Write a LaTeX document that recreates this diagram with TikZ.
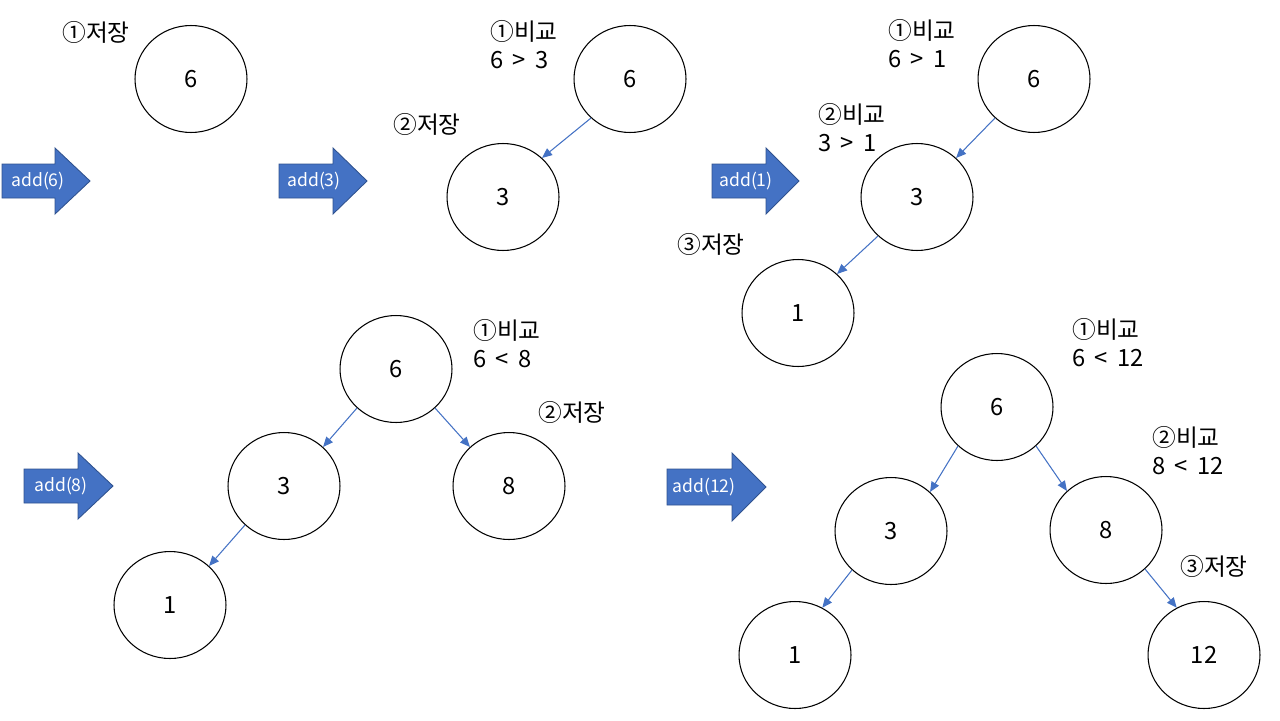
\documentclass[tikz,border=0pt]{standalone}
\usepackage{fontspec}
\setmainfont{Noto Sans CJK KR}
\usetikzlibrary{arrows.meta,shapes.geometric}
\definecolor{officeblue}{RGB}{68,114,196}
\definecolor{officeblueline}{RGB}{47,82,143}
\tikzset{
  num/.style={
    ellipse,
    draw=black,
    line width=0.6pt,
    minimum width=2.24cm,
    minimum height=2.14cm,
    inner sep=0pt,
    font=\fontsize{13.5}{15}\selectfont
  },
  memo/.style={
    anchor=base west,
    align=left,
    inner sep=0pt,
    font=\fontsize{13.5}{15.4}\selectfont
  },
  link/.style={
    -{Triangle[length=2mm,width=1.7mm]},
    officeblue,
    line width=0.6pt
  },
  addarrow/.style={
    fill=officeblue,
    draw=officeblueline,
    line width=0.5pt
  },
  addtext/.style={
    text=white,
    inner sep=0pt,
    font=\fontsize{10}{12}\selectfont
  }
}

\begin{document}
\begin{tikzpicture}[x=0.02cm,y=-0.02cm]
\useasboundingbox (0,0) rectangle (1280,720);

% add(6)
\fill[addarrow] (2,164) -- ++(53,0) -- ++(0,-16) -- ++(35,33) -- ++(-35,33) -- ++(0,-16) -- ++(-53,0) -- cycle;
\node[addtext] (t6) at (38,181) {add(6)};
\node[num] (a6) at (191,79) {6};
\node[memo] (m1) at (62,41) {①저장};

% add(3)
\fill[addarrow] (279,164) -- ++(54,0) -- ++(0,-16) -- ++(34,33) -- ++(-34,33) -- ++(0,-16) -- ++(-54,0) -- cycle;
\node[addtext] (t3) at (314,181) {add(3)};
\node[num] (b6) at (630,79) {6};
\node[num] (b3) at (503,197) {3};
\node[memo] (m2) at (490,68) {①비교\\6 \,>\, 3};
\node[memo] (m3) at (393,133) {②저장};
\draw[link] (b6.225) -- (b3.45);

% add(1)
\fill[addarrow] (712,164) -- ++(54,0) -- ++(0,-16) -- ++(33,33) -- ++(-33,33) -- ++(0,-16) -- ++(-54,0) -- cycle;
\node[addtext] (t1) at (746,181) {add(1)};
\node[num] (c6) at (1034,79) {6};
\node[num] (c3) at (917,197) {3};
\node[num] (c1) at (798,313) {1};
\node[memo] (m4) at (888,67) {①비교\\6 \,>\, 1};
\node[memo] (m5) at (818,151) {②비교\\3 \,>\, 1};
\node[memo] (m6) at (677,253) {③저장};
\draw[link] (c6.225) -- (c3.45);
\draw[link] (c3.225) -- (c1.45);

% add(8)
\fill[addarrow] (24,469) -- ++(54,0) -- ++(0,-16) -- ++(35,33) -- ++(-35,33) -- ++(0,-16) -- ++(-54,0) -- cycle;
\node[addtext] (t8) at (61,486) {add(8)};
\node[num] (d6) at (396,369) {6};
\node[num] (d3) at (284,486) {3};
\node[num] (d8) at (509,486) {8};
\node[num] (d1) at (170,605) {1};
\node[memo] (m7) at (473,367) {①비교\\6 \,<\, 8};
\node[memo] (m8) at (538,421) {②저장};
\draw[link] (d6.225) -- (d3.45);
\draw[link] (d6.315) -- (d8.135);
\draw[link] (d3.225) -- (d1.45);

% add(12)
\fill[addarrow] (667,469) -- ++(65,0) -- ++(0,-16) -- ++(34,34) -- ++(-34,34) -- ++(0,-16) -- ++(-65,0) -- cycle;
\node[addtext] (t12) at (704,487) {add(12)};
\node[num] (e6) at (997,407) {6};
\node[num] (e3) at (891,531) {3};
\node[num] (e8) at (1106,530) {8};
\node[num] (e1) at (795,655) {1};
\node[num] (e12) at (1204,655) {12};
\node[memo] (m9) at (1072,366) {①비교\\6 \,<\, 12};
\node[memo] (m10) at (1152,474) {②비교\\8 \,<\, 12};
\node[memo] (m11) at (1180,575) {③저장};
\draw[link] (e6.225) -- (e3.45);
\draw[link] (e6.315) -- (e8.135);
\draw[link] (e3.225) -- (e1.60);
\draw[link] (e8.315) -- (e12.120);
\end{tikzpicture}
\end{document}
